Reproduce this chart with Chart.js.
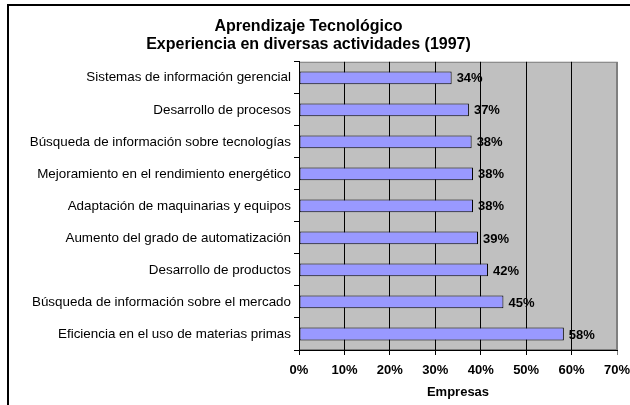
<!DOCTYPE html>
<html><head><meta charset="utf-8">
<script src="https://cdn.jsdelivr.net/npm/chart.js@4"></script>
<style>
html,body{margin:0;padding:0;background:#fff;overflow:hidden;}
#wrap{position:relative;width:630px;height:405px;overflow:hidden;}
#frame{position:absolute;left:7px;top:4px;width:700px;height:500px;border-left:2px solid #000;border-top:2px solid #000;box-sizing:border-box;pointer-events:none;}
canvas{position:absolute;left:0;top:0;}
</style></head>
<body><div id="wrap"><canvas id="c" width="630" height="405"></canvas><div id="frame"></div></div>
<script>
const titleLines = ['Aprendizaje Tecnológico', 'Experiencia en diversas actividades (1997)'];
const categories = [
  'Sistemas de información gerencial',
  'Desarrollo de procesos',
  'Búsqueda de información sobre tecnologías',
  'Mejoramiento en el rendimiento energético',
  'Adaptación de maquinarias y equipos',
  'Aumento del grado de automatización',
  'Desarrollo de productos',
  'Búsqueda de información sobre el mercado',
  'Eficiencia en el uso de materias primas'
];
const values = [33.6, 37.4, 38.0, 38.3, 38.3, 39.4, 41.6, 45.0, 58.3];
const xTicks = [0, 10, 20, 30, 40, 50, 60, 70];
const xTitle = 'Empresas';

const FONT = "'Liberation Sans', Arial, sans-serif";

const bgPlugin = {
  id: 'bg',
  beforeDraw(chart) {
    const {ctx, chartArea: a} = chart;
    ctx.save();
    ctx.fillStyle = '#C0C0C0';
    ctx.fillRect(a.left, a.top, a.right - a.left, a.bottom - a.top);
    ctx.strokeStyle = '#808080';
    ctx.lineWidth = 1;
    ctx.strokeRect(a.left + 0.5, a.top + 0.5, a.right - a.left - 1, a.bottom - a.top - 1);
    ctx.restore();
  }
};
const labelPlugin = {
  id: 'vlabels',
  afterDatasetsDraw(chart) {
    const {ctx} = chart;
    const meta = chart.getDatasetMeta(0);
    ctx.save();
    ctx.font = "bold 13px " + FONT;
    ctx.fillStyle = '#000';
    ctx.textAlign = 'left';
    ctx.textBaseline = 'middle';
    meta.data.forEach((el, i) => {
      ctx.fillText(Math.round(values[i]) + '%', el.x + 5, el.y + 1);
    });
    ctx.restore();
  }
};

new Chart(document.getElementById('c'), {
  type: 'bar',
  data: {
    labels: categories,
    datasets: [{
      data: values,
      backgroundColor: '#9999FF',
      borderColor: '#000',
      borderWidth: 1,
      borderSkipped: false,
      categoryPercentage: 1,
      barPercentage: 0.4
    }]
  },
  options: {
    indexAxis: 'y',
    responsive: false,
    animation: false,
    devicePixelRatio: 1,
    layout: {padding: {left: 0, right: 13, top: 17, bottom: 5}},
    plugins: {
      legend: {display: false},
      tooltip: {enabled: false},
      title: {
        display: true,
        text: titleLines,
        color: '#000',
        font: {family: FONT, size: 16, weight: 'bold', lineHeight: 1.15},
        padding: {top: 0, bottom: 8}
      }
    },
    scales: {
      x: {
        min: 0, max: 70,
        afterBuildTicks(scale) { scale.ticks = xTicks.map(v => ({value: v})); },
        afterFit(scale) { scale.height = 50; scale.paddingLeft = 0; scale.paddingRight = 0; },
        ticks: {
          color: '#000',
          font: {family: FONT, size: 13, weight: 'bold'},
          padding: 8,
          callback: v => v + '%'
        },
        grid: {
          color: ctx => ctx.index === xTicks.length - 1 ? '#808080' : '#000',
          lineWidth: 1,
          tickLength: 5,
          drawOnChartArea: true
        },
        border: {color: '#000', width: 1},
        title: {
          display: true,
          text: xTitle,
          color: '#000',
          font: {family: FONT, size: 13, weight: 'bold'},
          padding: {top: 2, bottom: 0}
        }
      },
      y: {
        afterFit(scale) { scale.width = 299; },
        ticks: {
          color: '#000',
          font: {family: FONT, size: 13.4},
          padding: 3
        },
        grid: {
          display: true,
          drawOnChartArea: false,
          color: '#000',
          tickLength: 5,
          offset: true
        },
        border: {color: '#000', width: 1}
      }
    }
  },
  plugins: [bgPlugin, labelPlugin]
});
</script></body></html>
